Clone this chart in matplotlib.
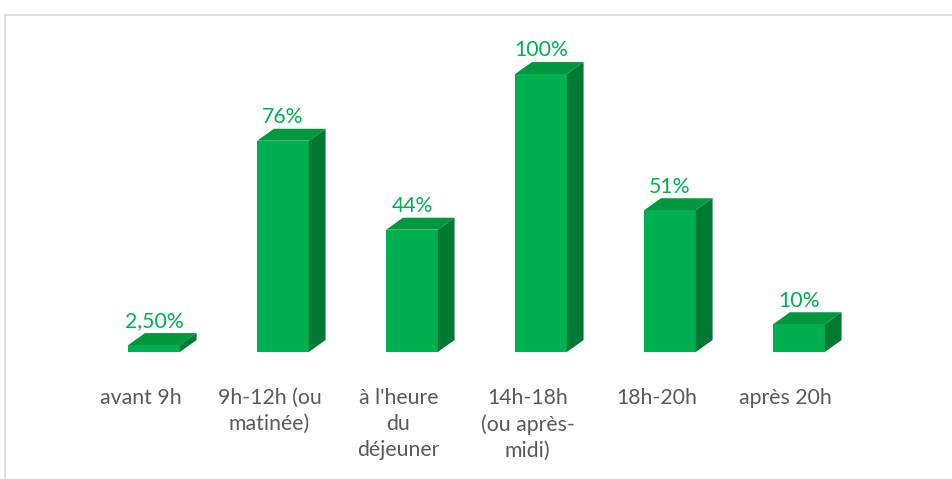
import matplotlib.pyplot as plt
from matplotlib.patches import Polygon, Rectangle

# Chart data
categories = ["avant 9h", "9h-12h (ou\nmatinée)", "à l'heure\ndu\ndéjeuner",
              "14h-18h\n(ou après-\nmidi)", "18h-20h", "après 20h"]
values = [2.5, 76, 44, 100, 51, 10]
value_labels = ["2,50%", "76%", "44%", "100%", "51%", "10%"]

front_color = "#00B050"
top_color = "#00973F"
side_color = "#007A33"
text_green = "#00B050"
text_gray = "#595959"

W, H = 952, 479
fig = plt.figure(figsize=(W / 100, H / 100), dpi=100)

# outer chart frame (light gray)
fig.patches.append(Rectangle((5 / W, -0.1), 1.1, 1.1 - 15 / H, transform=fig.transFigure,
                             fill=False, edgecolor="#D9D9D9", linewidth=1.2))

ax = fig.add_axes([89.5 / W, 1 - 352 / H, 774 / W, 278 / H])
ax.set_xlim(-0.5, len(values) - 0.5)
ax.set_ylim(0, 100)
ax.axis("off")

bar_w = 0.40
dx = 0.13   # depth offset in x (category units)
dy = 4.3    # depth offset in y (value units)

for i, v in enumerate(values):
    x0 = i - bar_w / 2
    x1 = i + bar_w / 2
    # front face
    ax.add_patch(Polygon([(x0, 0), (x1, 0), (x1, v), (x0, v)], closed=True,
                         facecolor=front_color, edgecolor="none", clip_on=False, zorder=3))
    # top face
    ax.add_patch(Polygon([(x0, v), (x1, v), (x1 + dx, v + dy), (x0 + dx, v + dy)], closed=True,
                         facecolor=top_color, edgecolor="none", clip_on=False, zorder=3))
    # side face
    ax.add_patch(Polygon([(x1, 0), (x1 + dx, dy), (x1 + dx, v + dy), (x1, v)], closed=True,
                         facecolor=side_color, edgecolor="none", clip_on=False, zorder=3))
    ax.text(i, v + dy + 2.0, value_labels[i], ha="center", va="baseline",
            color=text_green, fontsize=15.3, family="Lato", clip_on=False)

# category labels sit slightly left of the bar centres (3D floor offset)
for i, lab in enumerate(categories):
    ax.text(i - 0.105, -13, lab, ha="center", va="top", color=text_gray, fontsize=15.3,
            family="Lato", linespacing=1.36, clip_on=False)

fig.savefig("out.png", dpi=100)
